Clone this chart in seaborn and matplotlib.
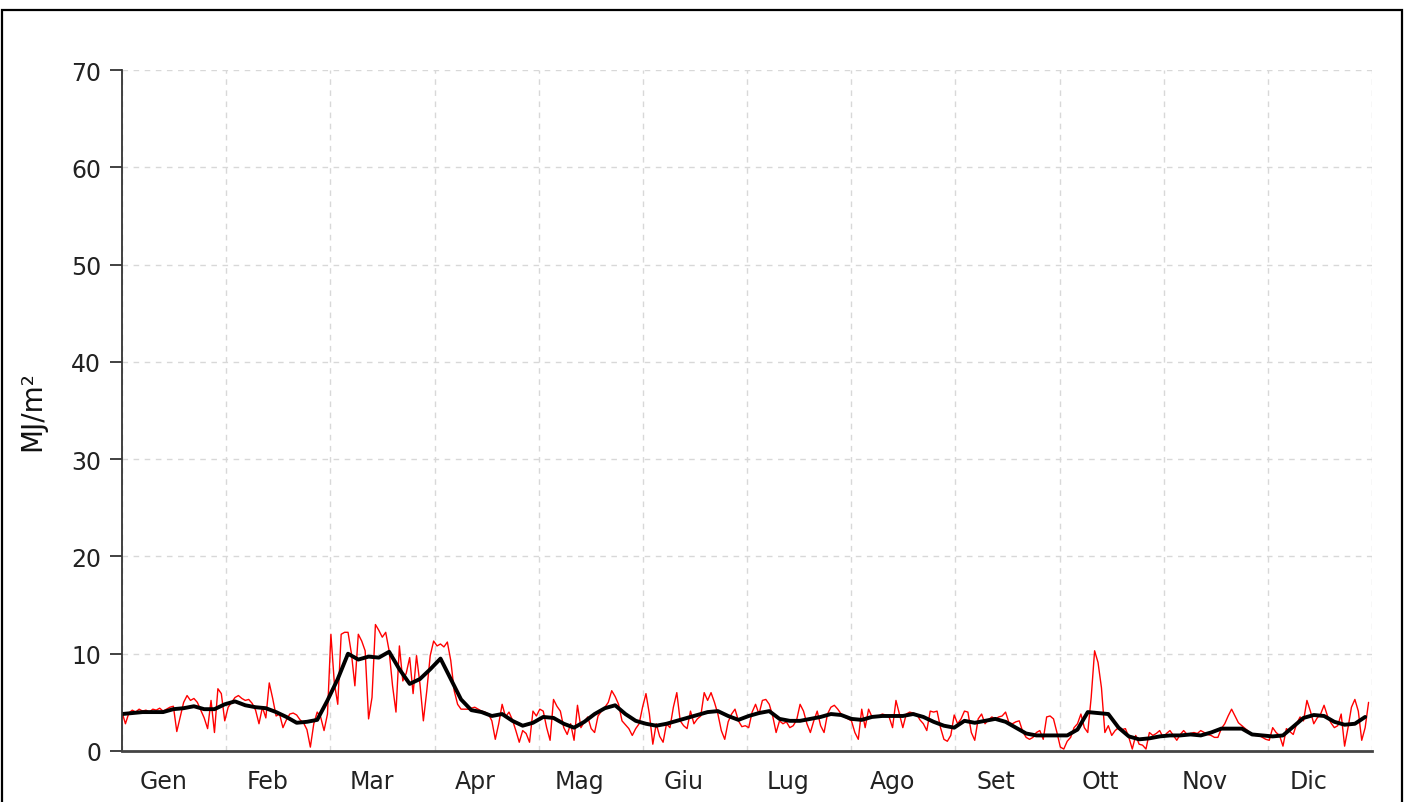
import numpy as np
import pandas as pd
import matplotlib
matplotlib.use("Agg")
import matplotlib.pyplot as plt
from matplotlib.patches import Rectangle
import seaborn as sns

# Month labels (Italian)
months = ["Gen", "Feb", "Mar", "Apr", "Mag", "Giu", "Lug", "Ago", "Set", "Ott", "Nov", "Dic"]

# Daily values (MJ/m2), one list per month
red_gen = [4.0, 2.8, 3.9, 4.2, 4.0, 4.3, 4.1, 4.2, 4.0, 4.3, 4.2, 4.4, 4.1, 4.3, 4.5, 4.6,
           2.0, 3.5, 5.0, 5.7, 5.2, 5.4, 5.0, 4.2, 3.4, 2.3, 5.2, 1.9, 6.4, 5.9, 3.1]
red_feb = [4.5, 5.0, 5.5, 5.7, 5.4, 5.2, 5.3, 4.9, 4.2, 2.8, 4.5, 3.4, 7.0, 5.4, 3.6, 3.8,
           2.4, 3.2, 3.8, 3.9, 3.7, 3.2, 2.9, 2.2, 0.4, 2.8, 4.0, 3.5]
red_mar = [2.1, 3.8, 12.0, 7.0, 4.8, 12.0, 12.2, 12.2, 10.0, 6.7, 12.0, 11.3, 10.3, 3.3, 5.5, 13.0,
           12.4, 11.7, 12.2, 10.3, 6.7, 4.0, 10.8, 7.2, 8.0, 9.6, 5.9, 9.8, 6.9, 3.1, 6.2]
red_apr = [9.8, 11.3, 10.8, 11.0, 10.7, 11.2, 9.3, 6.2, 4.8, 4.3, 4.3, 4.3, 4.4, 4.5, 4.3,
           4.1, 4.0, 3.8, 3.1, 1.2, 2.8, 4.8, 3.5, 4.0, 3.2, 2.1, 0.9, 2.1, 1.8, 0.9]
red_mag = [4.1, 3.6, 4.3, 4.1, 2.4, 1.1, 5.3, 4.6, 4.1, 2.4, 1.7, 2.8, 1.1, 4.7, 2.4, 3.0,
           3.5, 2.3, 1.9, 3.6, 4.1, 4.5, 5.0, 6.2, 5.6, 4.8, 3.1, 2.7, 2.3, 1.6, 2.3]
red_giu = [2.8, 4.5, 5.9, 3.8, 0.7, 2.8, 1.5, 0.9, 2.8, 2.4, 4.5, 6.0, 3.1, 2.6, 2.3,
           4.1, 2.8, 3.3, 3.6, 6.0, 5.2, 6.0, 5.0, 3.8, 2.1, 1.2, 3.0, 3.8, 4.3, 3.1]
red_lug = [2.5, 2.6, 2.4, 4.0, 4.8, 3.8, 5.2, 5.3, 4.8, 3.6, 1.9, 3.1, 2.8, 3.0, 2.4, 2.6,
           3.2, 4.8, 4.1, 2.8, 1.9, 3.1, 4.1, 2.6, 1.9, 3.8, 4.5, 4.7, 4.3, 3.8, 3.5]
red_ago = [3.3, 3.1, 1.9, 1.2, 4.3, 2.4, 4.3, 3.5, 3.6, 3.6, 3.8, 3.7, 3.5, 2.4, 5.2, 3.8,
           2.4, 3.8, 4.0, 3.9, 3.8, 3.2, 2.8, 2.1, 4.1, 4.0, 4.1, 2.4, 1.2, 1.0, 1.6]
red_set = [3.7, 2.8, 3.3, 4.1, 4.0, 1.9, 1.1, 3.3, 3.8, 2.8, 3.2, 3.5, 3.3, 3.5, 3.6,
           4.0, 2.9, 2.8, 3.0, 3.1, 2.0, 1.4, 1.2, 1.4, 1.9, 2.1, 1.2, 3.5, 3.6, 3.3]
red_ott = [1.9, 0.4, 0.2, 1.0, 1.4, 2.4, 2.8, 3.8, 2.4, 1.9, 5.5, 10.3, 9.1, 6.5, 1.9, 2.6,
           1.6, 2.1, 2.4, 2.2, 2.3, 1.4, 0.2, 1.6, 0.7, 0.6, 0.2, 1.9, 1.6, 1.8, 2.1]
red_nov = [1.4, 1.8, 2.1, 1.6, 1.1, 1.7, 2.1, 1.7, 1.8, 1.9, 1.8, 2.1, 1.9, 1.7, 1.6,
           1.4, 1.4, 2.3, 2.8, 3.6, 4.3, 3.6, 2.9, 2.6, 2.3, 2.0, 1.7, 1.6, 1.6, 1.4]
red_dic = [1.2, 1.1, 2.4, 1.9, 1.6, 0.5, 2.3, 2.0, 1.7, 2.8, 3.5, 3.1, 5.2, 4.1, 2.8, 3.4,
           3.8, 4.7, 3.6, 2.9, 2.4, 2.6, 3.8, 0.5, 2.4, 4.5, 5.3, 4.1, 1.1, 2.4, 5.0]

# Smoothed series, every 3rd day
black_vals = [3.8, 3.9, 4.0, 4.0, 4.0, 4.3, 4.4, 4.6, 4.3, 4.3,
              4.8, 5.1, 4.7, 4.5, 4.4, 4.0, 3.5, 2.9, 3.0, 3.2,
              5.2, 7.4, 10.0, 9.4, 9.7, 9.6, 10.2, 8.4, 6.9, 7.4,
              8.4, 9.5, 7.4, 5.3, 4.2, 4.0, 3.6, 3.8, 3.1, 2.6,
              2.9, 3.5, 3.4, 2.8, 2.4, 3.0, 3.8, 4.4, 4.7, 3.8,
              3.1, 2.8, 2.6, 2.8, 3.1, 3.4, 3.7, 4.0, 4.1, 3.6,
              3.2, 3.6, 3.9, 4.1, 3.3, 3.1, 3.1, 3.3, 3.5, 3.8,
              3.7, 3.3, 3.2, 3.5, 3.6, 3.6, 3.6, 3.8, 3.5, 3.0,
              2.6, 2.4, 3.1, 2.9, 3.1, 3.3, 3.0, 2.4, 1.8, 1.6,
              1.6, 1.6, 1.6, 2.2, 4.0, 3.9, 3.8, 2.4, 1.5, 1.2,
              1.3, 1.5, 1.6, 1.6, 1.7, 1.6, 1.9, 2.3, 2.3, 2.3,
              1.7, 1.6, 1.5, 1.6, 2.5, 3.4, 3.7, 3.6, 3.0, 2.7,
              2.8, 3.5]

red_vals = (red_gen + red_feb + red_mar + red_apr + red_mag + red_giu +
            red_lug + red_ago + red_set + red_ott + red_nov + red_dic)

red_df = pd.DataFrame({"day": np.arange(len(red_vals)), "val": red_vals})
black_df = pd.DataFrame({"day": np.arange(len(black_vals)) * 3, "val": black_vals})

sns.set_style("white")
plt.rcParams["font.family"] = ["DejaVu Sans"]

fig = plt.figure(figsize=(14.11, 8.03), dpi=100)
ax = fig.add_axes([122 / 1411, 1 - 752 / 803, 1250 / 1411, 681 / 803])

sns.lineplot(data=red_df, x="day", y="val", color="#ff0000", linewidth=1.0, ax=ax)
sns.lineplot(data=black_df, x="day", y="val", color="black", linewidth=2.8, ax=ax)

ax.set_xlim(0, 365)
ax.set_ylim(0, 70)
ax.set_yticks(range(0, 71, 10))

# gridlines at month boundaries, labels a bit inside each month
month_len = 365 / 12
ax.set_xticks([i * month_len for i in range(13)], minor=True)
ax.set_xticks([i * month_len + 12 for i in range(12)])
ax.set_xticklabels(months)

ax.grid(which="minor", axis="x", color="#d8d8d8", linestyle=(0, (4, 4)), linewidth=1)
ax.grid(which="major", axis="y", color="#d8d8d8", linestyle=(0, (4, 4)), linewidth=1)
ax.grid(which="major", axis="x", visible=False)

ax.tick_params(axis="y", which="major", length=9, width=1.3, color="#333333",
               labelsize=17, pad=6, labelcolor="#222222", left=True)
ax.tick_params(axis="x", which="both", length=0, labelsize=17, pad=13, labelcolor="#222222")

for s in ["top", "right"]:
    ax.spines[s].set_visible(False)
ax.spines["left"].set_color("#333333")
ax.spines["left"].set_linewidth(1.3)
ax.spines["bottom"].set_color("#444444")
ax.spines["bottom"].set_linewidth(2)

ax.set_xlabel("")
ax.set_ylabel("MJ/m²", fontsize=20, labelpad=18, color="#111111")

# outer frame
fig.patches.append(Rectangle((2 / 1411, -0.05), 1400 / 1411, 1.05 - 11 / 803,
                             transform=fig.transFigure, fill=False,
                             edgecolor="black", linewidth=1.6))

fig.savefig("out.png", dpi=100)
